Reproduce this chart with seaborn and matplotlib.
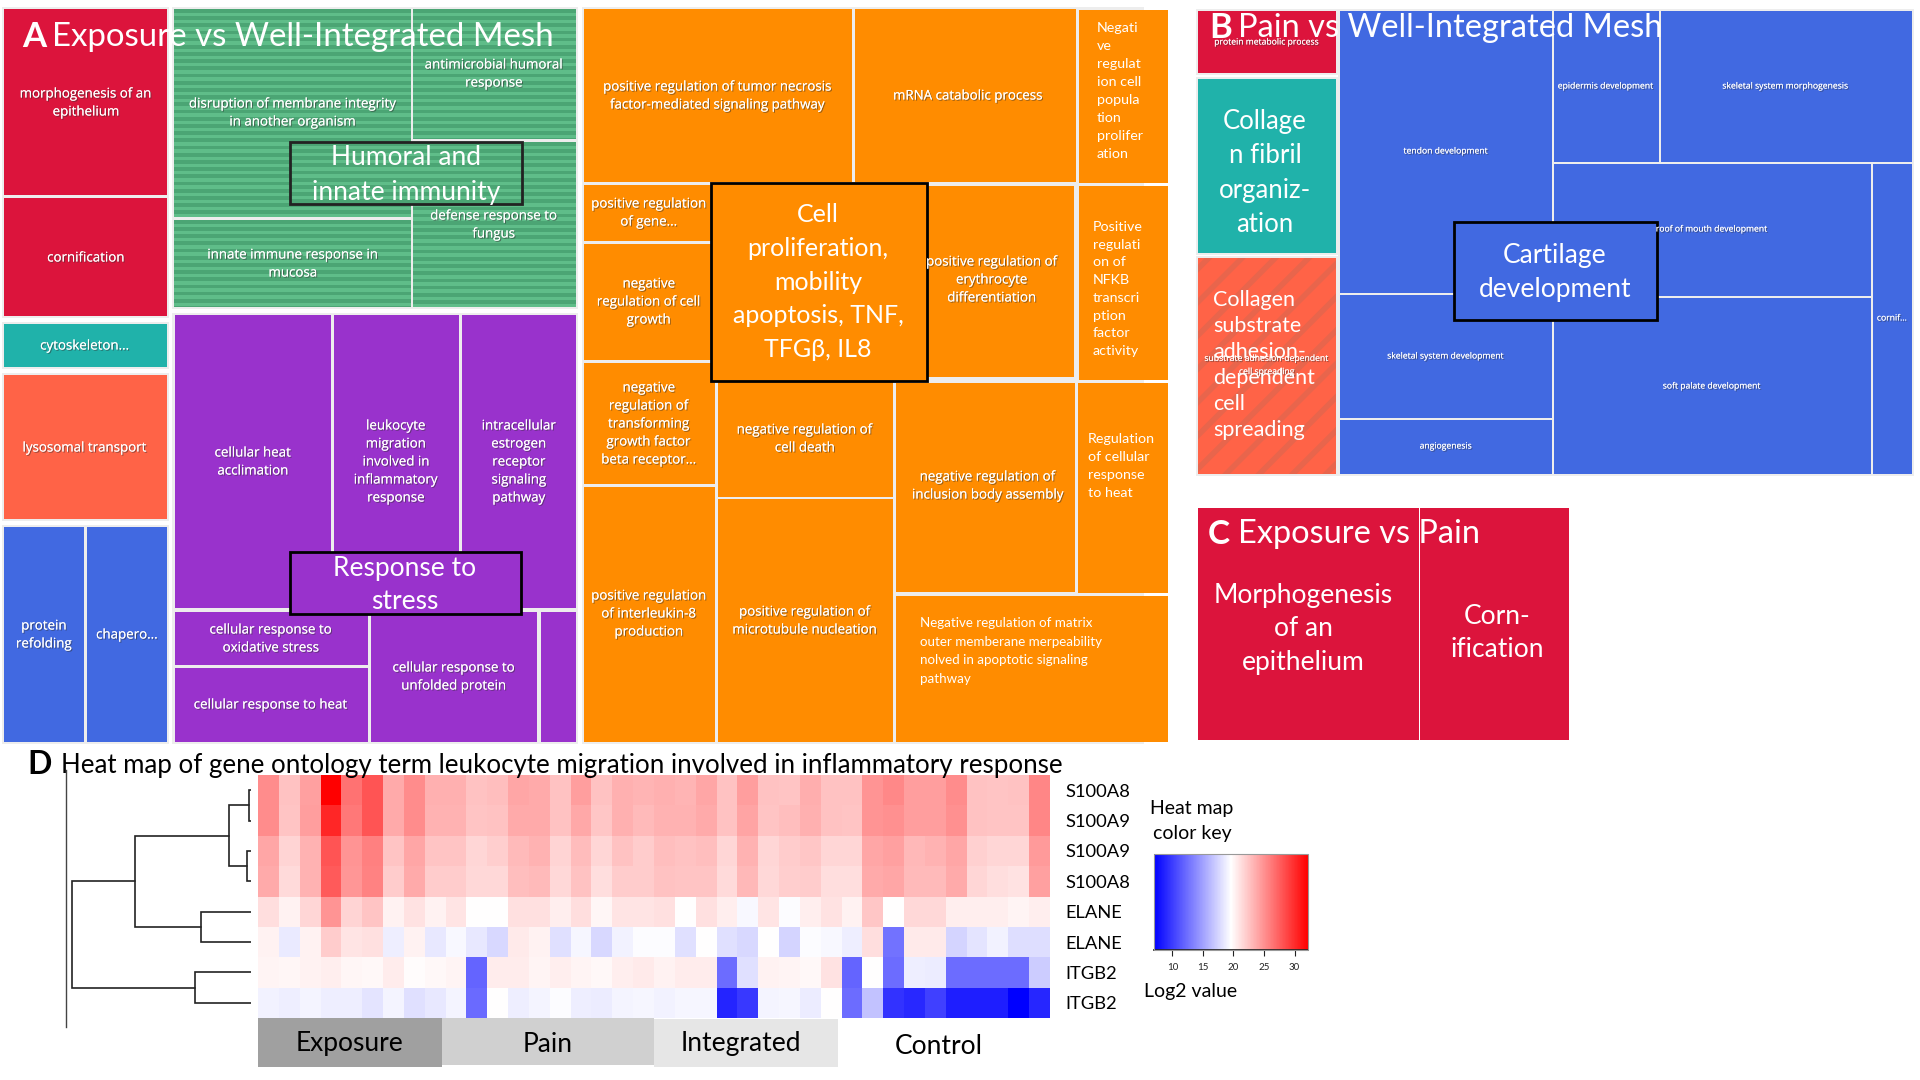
import numpy as np
import pandas as pd
import matplotlib
matplotlib.use("Agg")
import matplotlib.pyplot as plt
import matplotlib.patheffects as pe
from matplotlib.patches import Rectangle
import seaborn as sns

# =============================
# Heat map data (log2 values)
# =============================
genes = ["S100A8", "S100A9", "S100A9", "S100A8", "ELANE", "ELANE", "ITGB2", "ITGB2"]
row_1 = [25.3,22.6,24.3,32.2,26.5,28.0,23.8,25.3,23.5,23.5,22.6,22.8,24.0,23.8,22.6,24.4,22.6,23.5,23.3,23.5,
         23.3,24.0,22.6,24.4,22.6,22.5,23.6,22.6,22.6,24.9,25.5,24.4,24.4,25.3,22.6,22.5,22.6,25.6]
row_2 = [25.3,22.5,24.4,30.3,26.2,28.0,23.8,25.3,23.4,23.4,22.5,22.6,23.8,23.8,22.6,23.9,22.4,23.5,23.0,23.4,
         23.4,23.8,22.6,24.1,22.5,22.8,23.5,22.6,22.5,24.9,25.1,24.4,24.4,25.1,22.6,22.5,22.5,25.6]
row_3 = [24.0,21.7,23.4,28.0,24.9,25.9,22.5,24.0,22.5,22.5,21.6,22.0,23.0,23.4,21.7,22.9,21.6,22.6,22.1,22.8,
         22.6,22.8,21.6,23.4,21.6,22.1,22.4,21.6,21.6,24.0,24.3,23.1,23.4,24.0,21.9,21.6,21.6,24.6]
row_4 = [23.8,21.4,23.4,27.7,24.8,25.8,22.1,23.8,22.1,22.1,21.5,21.5,22.8,23.0,21.5,22.6,21.2,22.1,22.1,22.6,
         22.5,22.5,21.4,23.1,21.5,22.0,22.1,21.2,21.2,23.8,24.0,23.0,23.0,23.8,21.6,21.2,21.0,24.3]
row_5 = [21.2,20.2,21.6,24.9,21.7,22.5,20.2,21.0,20.2,20.9,19.6,19.6,21.1,21.1,20.4,21.2,20.0,20.9,20.9,21.1,
         19.6,21.1,20.4,19.3,20.9,19.5,20.4,21.0,20.2,22.4,19.6,21.5,21.5,20.4,20.4,20.4,20.1,20.4]
row_6 = [20.2,18.6,20.2,22.1,20.9,21.1,18.8,20.2,18.5,19.3,18.5,17.7,20.6,20.2,18.1,19.2,17.7,19.0,19.5,19.5,
         18.1,19.6,18.1,17.7,19.6,17.5,19.5,19.3,18.8,21.2,12.7,20.6,20.6,17.5,18.3,19.0,18.0,18.0]
row_7 = [20.1,20.0,20.2,20.4,20.0,19.9,20.5,19.7,19.9,20.1,12.0,20.5,20.5,20.1,20.4,20.1,19.9,20.4,20.6,20.2,
         20.5,20.5,12.4,18.1,20.2,20.1,19.9,21.0,12.0,19.6,12.4,18.8,18.7,12.4,12.4,12.4,12.4,17.1]
row_8 = [19.0,18.8,19.1,18.8,18.8,18.3,19.1,18.1,18.5,19.1,12.3,19.6,18.8,19.1,19.5,18.8,18.7,19.1,19.2,19.0,
         19.2,19.2,8.8,9.8,19.1,19.2,18.7,19.6,12.4,16.6,9.5,9.0,10.2,8.5,8.5,8.5,7.0,8.9]
key_ticks = [10, 15, 20, 25, 30]

# dendrogram merges: left node, right node, height (nodes 8+ are earlier merges)
dend_left = [0, 2, 8, 4, 10, 6, 12]
dend_right = [1, 3, 9, 5, 11, 7, 13]
dend_height = [0.1, 0.2, 1.08, 2.5, 5.8, 2.78, 8.95]

groups = ["Exposure", "Pain", "Integrated", "Control"]

# =============================
# Treemap terms
# =============================
terms_a = [
    "morphogenesis of an\nepithelium", "cornification", "cytoskeleton...", "lysosomal transport",
    "protein\nrefolding", "chapero...",
    "disruption of membrane integrity\nin another organism", "antimicrobial humoral\nresponse",
    "defense response to\nfungus", "innate immune response in\nmucosa",
    "cellular heat\nacclimation", "leukocyte\nmigration\ninvolved in\ninflammatory\nresponse",
    "intracellular\nestrogen\nreceptor\nsignaling\npathway", "cellular response to\noxidative stress",
    "cellular response to heat", "cellular response to\nunfolded protein",
    "positive regulation of tumor necrosis\nfactor-mediated signaling pathway", "mRNA catabolic process",
    "positive regulation\nof gene...", "negative\nregulation of cell\ngrowth",
    "positive regulation of\nerythrocyte\ndifferentiation",
    "negative\nregulation of\ntransforming\ngrowth factor\nbeta receptor...",
    "negative regulation of\ncell death", "negative regulation of\ninclusion body assembly",
    "positive regulation\nof interleukin-8\nproduction", "positive regulation of\nmicrotubule nucleation",
]
terms_b = [
    "protein metabolic process", "substrate adhesion-dependent\ncell spreading", "tendon development",
    "epidermis development", "skeletal system morphogenesis", "roof of mouth development",
    "skeletal system development", "angiogenesis", "soft palate development", "cornif...",
]

# =============================
# Layout (pixels of the 1920x1080 canvas)
# =============================
W, H = 1920, 1080
CRIMSON, GREEN, ORANGE, PURPLE = "#DC143C", "#4BA574", "#FF8C00", "#9932CC"
TEAL, TOMATO, BLUE = "#20B2AA", "#FF6347", "#4169E1"

backdrops = [(2, 7, 169, 318), (2, 322, 169, 369), (2, 373, 169, 521), (2, 525, 169, 744),
             (172, 7, 578, 309), (172, 313, 578, 744), (582, 7, 1144, 744),
             (1196, 9, 1338, 75), (1196, 77, 1338, 255), (1196, 256, 1338, 476), (1338, 9, 1914, 476)]

tiles = [
    (4, 9, 167, 195, CRIMSON), (4, 198, 167, 316, CRIMSON), (4, 324, 167, 367, TEAL), (4, 375, 167, 519, TOMATO),
    (4, 527, 84, 742, BLUE), (87, 527, 167, 742, BLUE),
    (175, 315, 331, 608, PURPLE), (334, 315, 459, 608, PURPLE), (462, 315, 576, 608, PURPLE),
    (175, 612, 368, 665, PURPLE), (175, 668, 368, 742, PURPLE), (371, 612, 537, 742, PURPLE), (541, 612, 576, 742, PURPLE),
    (584, 9, 852, 182, ORANGE), (855, 9, 1076, 182, ORANGE), (1079, 10, 1168, 183, ORANGE),
    (584, 185, 715, 241, ORANGE), (584, 244, 715, 360, ORANGE), (584, 363, 715, 484, ORANGE), (584, 487, 715, 742, ORANGE),
    (718, 185, 893, 497, ORANGE), (718, 499, 893, 742, ORANGE), (896, 186, 1074, 377, ORANGE),
    (1079, 186, 1168, 380, ORANGE), (896, 383, 1075, 592, ORANGE), (1078, 383, 1168, 593, ORANGE),
    (896, 596, 1168, 742, ORANGE),
    (1198, 11, 1336, 73, CRIMSON), (1198, 79, 1336, 253, TEAL),
    (1340, 11, 1552, 293, BLUE), (1554, 11, 1659, 162, BLUE), (1661, 11, 1912, 162, BLUE),
    (1554, 164, 1871, 296, BLUE), (1873, 164, 1912, 474, BLUE), (1554, 298, 1871, 474, BLUE),
    (1340, 295, 1552, 418, BLUE), (1340, 420, 1552, 474, BLUE),
    (1198, 508, 1419, 740, CRIMSON), (1420, 508, 1569, 740, CRIMSON),
]
striped_tiles = [(174, 9, 411, 217), (413, 9, 576, 139), (413, 142, 576, 307), (174, 220, 411, 307)]

pos_a = [(86, 103), (86, 258), (85, 346), (85, 448), (44, 635), (127, 635),
         (293, 113), (494, 74), (494, 225), (293, 264),
         (253, 462), (396, 462), (519, 462), (271, 639), (271, 705), (454, 677),
         (718, 96), (968, 96), (649, 213), (649, 302), (992, 280), (649, 424), (805, 439),
         (988, 486), (649, 614), (805, 621)]
pos_b = [(1267, 42), (1267, 365), (1446, 151), (1606, 86), (1786, 86), (1712, 229),
         (1446, 356), (1446, 446), (1712, 386), (1892, 318)]

sns.set_theme(style="white")
plt.rcParams["font.family"] = ["Lato", "DejaVu Sans"]

fig = plt.figure(figsize=(W / 100, H / 100), dpi=100, facecolor="white")


def px_axes(x0, y0, x1, y1):
    return fig.add_axes([x0 / W, 1 - y1 / H, (x1 - x0) / W, (y1 - y0) / H])


ax = fig.add_axes([0, 0, 1, 1], zorder=5)
ax.set_xlim(0, W)
ax.set_ylim(H, 0)
ax.axis("off")
ax.patch.set_alpha(0)


def box(x0, y0, x1, y1, color, **kw):
    ax.add_patch(Rectangle((x0, y0), x1 - x0, y1 - y0, facecolor=color, linewidth=kw.pop("lw", 0), **kw))


def stripes(x0, y0, x1, y1):
    box(x0, y0, x1, y1, GREEN)
    for y in np.arange(y0 + 3.5, y1 - 1, 7.2):
        box(x0, y, x1, min(y + 3.6, y1), "#5FBD89")


# =============================
# Treemaps
# =============================
for b in backdrops:
    box(*b, "#EDEDED")
for t in tiles:
    box(*t)
for t in striped_tiles:
    stripes(*t)

# hatched tomato tile of panel B
plt.rcParams["hatch.linewidth"] = 4
ax.add_patch(Rectangle((1198, 258), 138, 216, facecolor=TOMATO, edgecolor="#E8654C", hatch="/", linewidth=0))

shadow = [pe.withSimplePatchShadow(offset=(0.8, -0.8), shadow_rgbFace="#333333", alpha=0.55), pe.Normal()]
for label, (x, y) in zip(terms_a, pos_a):
    ax.text(x, y, label, color="white", fontsize=9.6, family="Open Sans", ha="center", va="center",
            linespacing=1.5, path_effects=shadow)
for label, (x, y) in zip(terms_b, pos_b):
    ax.text(x, y, label, color="white", fontsize=6.2, family="Open Sans", ha="center", va="center",
            linespacing=1.6, path_effects=shadow)


def big(x, y, s, size, ha="center", sp=1.2, color="white"):
    return ax.text(x, y, s, color=color, fontsize=size, ha=ha, va="center", linespacing=sp)


# boxed headline labels
stripes(290, 142, 522, 204)
box(290, 142, 522, 204, "none", lw=2, edgecolor="#222222")
big(406, 175, "Humoral and\ninnate immunity", 19, sp=1.46)
box(290, 552, 521, 614, PURPLE, lw=2, edgecolor="black")
big(405, 585, "Response to\nstress", 19, sp=1.38)
box(711, 183, 927, 381, ORANGE, lw=2, edgecolor="black")
big(818, 282, "Cell\nproliferation,\nmobility\napoptosis, TNF,\nTFGβ, IL8", 18, sp=1.56)
box(1454, 222, 1657, 320, BLUE, lw=2, edgecolor="black")
big(1555, 273, "Cartilage\ndevelopment", 19, sp=1.45)

big(1097, 91, "Negati\nve\nregulat\nion cell\npopula\ntion\nprolifer\nation", 10.3, ha="left", sp=1.6)
big(1093, 289, "Positive\nregulati\non of\nNFKB\ntranscri\nption\nfactor\nactivity", 10.3, ha="left", sp=1.57)
big(1088, 466, "Regulation\nof cellular\nresponse\nto heat", 10.3, ha="left", sp=1.6)
big(920, 651, "Negative regulation of matrix\nouter memberane merpeability\nnolved in apoptotic signaling\npathway",
    9.6, ha="left", sp=1.64)

big(1265, 173, "Collage\nn fibril\norganiz-\nation", 18.5, sp=1.46)
big(1213, 365, "Collagen\nsubstrate\nadhesion-\ndependent\ncell\nspreading", 15.5, ha="left", sp=1.38)
big(1303, 629, "Morphogenesis\nof an\nepithelium", 19, sp=1.42)
big(1497, 633, "Corn-\nification", 19, sp=1.42)

# panel titles
ax.text(22, 37, "A", color="white", fontsize=25, fontweight="bold", ha="left", va="center")
big(52, 37, "Exposure vs Well-Integrated Mesh", 23.8, ha="left")
ax.text(1209, 28, "B", color="white", fontsize=25, fontweight="bold", ha="left", va="center")
big(1238, 28, "Pain vs Well-Integrated Mesh", 23.5, ha="left")
ax.text(1208, 534, "C", color="white", fontsize=24, fontweight="bold", ha="left", va="center")
big(1238, 534, "Exposure vs Pain", 23.4, ha="left")
ax.text(27, 764, "D", color="black", fontsize=23, fontweight="bold", ha="left", va="center")
big(61, 765, "Heat map of gene ontology term leukocyte migration involved in inflammatory response", 18.65,
    ha="left", color="black")

# =============================
# Heat map with seaborn
# =============================
heat_values = pd.DataFrame([row_1, row_2, row_3, row_4, row_5, row_6, row_7, row_8], index=genes)
hax = px_axes(258, 775, 1050, 1018)
kax = px_axes(1154, 854, 1308, 950)
sns.heatmap(heat_values, ax=hax, cmap="bwr", vmin=7, vmax=32.2, xticklabels=False, yticklabels=genes,
            cbar_ax=kax, cbar_kws={"orientation": "horizontal", "ticks": key_ticks})
hax.yaxis.tick_right()
hax.tick_params(axis="y", length=0, pad=11, labelsize=13.2, labelrotation=0, labelcolor="black")
kax.tick_params(axis="x", length=4, width=0.8, color="#222222", labelsize=7, pad=5, bottom=True, labelcolor="#222222")
key_bar = hax.collections[0].colorbar
key_bar.outline.set_edgecolor("#999999")
key_bar.outline.set_linewidth(0.8)
kax.spines["bottom"].set_visible(True)
kax.spines["bottom"].set_color("#222222")

big(1192, 821, "Heat map\ncolor key", 14, color="black", sp=1.55)
big(1191, 991, "Log2 value", 14, color="black")

# group bars under the heat map
box(258, 1018, 442, 1067, "#A0A0A0")
box(442, 1018, 654, 1065, "#D0D0D0")
box(654, 1019, 838, 1067, "#E6E6E6")
for name, (x, y) in zip(groups, [(350, 1044), (548, 1044), (741, 1044), (939, 1047)]):
    big(x, y, name, 19, color="black")

# =============================
# Dendrogram drawn from the merge table
# =============================
dax = px_axes(66, 770, 251, 1027)
dax.set_xlim(9.25, 0)
dax.set_ylim(8.3, -0.164)
dax.set_xticks([])
dax.set_yticks([])
for side in ["top", "right", "bottom"]:
    dax.spines[side].set_visible(False)
dax.spines["left"].set_color("#444444")
dax.spines["left"].set_linewidth(1)
dax.patch.set_alpha(0)

node_pos = {i: (i + 0.5, 0.0) for i in range(len(genes))}
for k, (a, b, h) in enumerate(zip(dend_left, dend_right, dend_height)):
    ya, ha_ = node_pos[a]
    yb, hb_ = node_pos[b]
    dax.plot([ha_, h, h, hb_], [ya, ya, yb, yb], color="#222222", lw=1.2, solid_joinstyle="miter")
    node_pos[len(genes) + k] = ((ya + yb) / 2, h)

fig.savefig("out.png", dpi=100)
